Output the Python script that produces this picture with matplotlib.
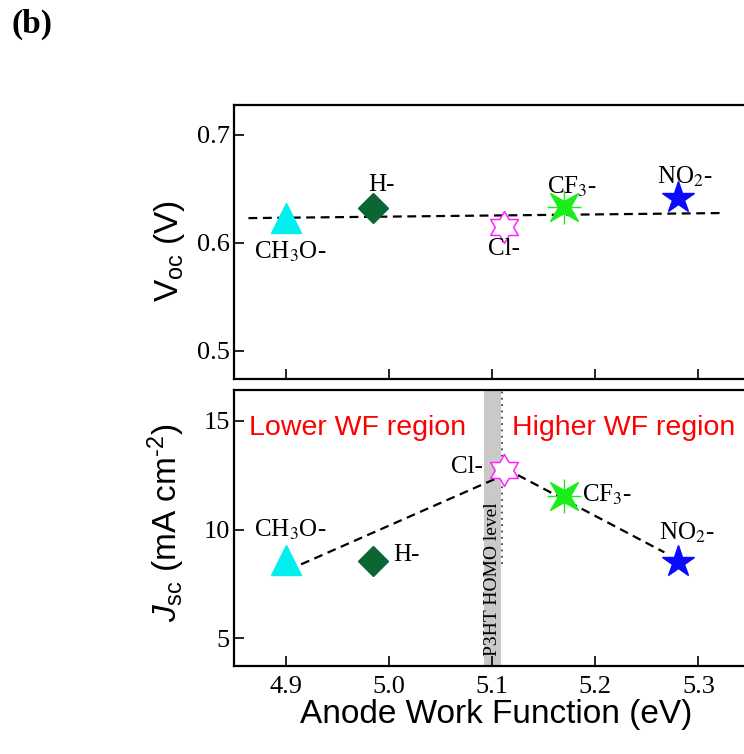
import matplotlib
matplotlib.use("Agg")
import matplotlib.pyplot as plt
from matplotlib.path import Path
from matplotlib.transforms import Affine2D

plt.rcParams['font.family'] = ['Liberation Serif', 'DejaVu Serif']
plt.rcParams['mathtext.fontset'] = 'custom'
plt.rcParams['mathtext.rm'] = 'Liberation Sans'
plt.rcParams['mathtext.it'] = 'Liberation Sans:italic'
plt.rcParams['mathtext.sf'] = 'Liberation Sans'

# anode work function (eV) for each surface modifier
groups = ['CH3O-', 'H-', 'Cl-', 'CF3-', 'NO2-']
work_function = [4.90, 4.985, 5.112, 5.17, 5.28]
voc = [0.623, 0.632, 0.615, 0.633, 0.642]
jsc = [8.6, 8.55, 12.75, 11.55, 8.5]

# trend lines
voc_fit_x = [4.864, 5.324]
voc_fit_y = [0.623, 0.6277]
jsc_low_x = [4.915, 5.109]
jsc_low_y = [8.4, 12.45]
jsc_high_x = [5.125, 5.267]
jsc_high_y = [12.5, 8.95]

# P3HT HOMO band
homo_band = (5.092, 5.109)
homo_line = 5.11

xticks = [4.9, 5.0, 5.1, 5.2, 5.3]

# marker styles
hexagram = Path.unit_regular_star(6, 0.577)
four_star = Path.unit_regular_star(4, 0.3).transformed(Affine2D().rotate_deg(45))
styles = [
    dict(marker='^', ms=21, color='#00f0f0'),
    dict(marker='D', ms=15.5, color='#0b6634'),
    dict(marker=hexagram, ms=23, mfc='white', mec='#ff22ff', mew=1.1),
    dict(marker=four_star, ms=20, color='#1aee1a'),
    dict(marker='*', ms=24, color='#0a0aff'),
]

chem = ['CH$_3$O-', 'H-', 'Cl-', 'CF$_3$-', 'NO$_2$-']
# label placement (x, y, ha) for each panel
voc_lab = [(4.904, 0.592, 'center'), (4.993, 0.654, 'center'), (5.112, 0.594, 'center'),
           (5.178, 0.652, 'center'), (5.287, 0.661, 'center')]
jsc_lab = [(4.904, 9.97, 'center'), (5.004, 8.82, 'left'), (5.091, 12.88, 'right'),
           (5.187, 11.58, 'left'), (5.289, 9.83, 'center')]

fig = plt.figure(figsize=(7.44, 7.54), dpi=100)
ax1 = fig.add_axes([0.3145, 0.4973, 0.763, 0.3634])
ax2 = fig.add_axes([0.3145, 0.1167, 0.763, 0.3661])

for ax in (ax1, ax2):
    ax.set_xlim(4.85, 5.40)
    ax.set_xticks(xticks)
    ax.tick_params(direction='in', length=7, width=1.2, labelsize=19,
                   top=False, right=False)
    ax.tick_params(axis='y', pad=3)
    ax.tick_params(axis='x', pad=7)
    for s in ax.spines.values():
        s.set_linewidth(1.6)

# Voc panel
ax1.set_ylim(0.474, 0.7277)
ax1.set_yticks([0.5, 0.6, 0.7])
ax1.set_xticklabels([])
ax1.plot(voc_fit_x, voc_fit_y, color='k', lw=1.6, ls=(0, (4, 2.5)), zorder=2)
for x, y, st in zip(work_function, voc, styles):
    ax1.plot(x, y, ls='none', zorder=3, **st)
    if st['marker'] is four_star:
        ax1.plot(x, y, marker='+', ms=24, mew=1.0, color=st['color'], zorder=3)
for (x, y, ha), t in zip(voc_lab, chem):
    ax1.text(x, y, t, ha=ha, va='center', fontsize=18, math_fontfamily='stix')
ax1.set_ylabel(r'$\mathrm{V}_{\mathrm{oc}}$ (V)', family='Liberation Sans', fontsize=24)
ax1.yaxis.set_label_coords(-0.083, 0.467)

# Jsc panel
ax2.set_ylim(3.73, 16.41)
ax2.set_yticks([5, 10, 15])
ax2.set_xticklabels(['%.1f' % v for v in xticks])
ax2.axvspan(*homo_band, color='#c9c9c9', lw=0, zorder=0)
ax2.vlines(homo_line, 8.4, 16.41, colors='#444444', lw=1.3, linestyles=(0, (1, 2.5)), zorder=1)
ax2.text(5.1005, 7.74, 'P3HT HOMO level', rotation=90, ha='center', va='center',
         fontsize=14, zorder=1)
ax2.plot(jsc_low_x, jsc_low_y, color='k', lw=1.6, ls=(0, (4, 2.5)), zorder=2)
ax2.plot(jsc_high_x, jsc_high_y, color='k', lw=1.6, ls=(0, (4, 2.5)), zorder=2)
for x, y, st in zip(work_function, jsc, styles):
    ax2.plot(x, y, ls='none', zorder=3, **st)
    if st['marker'] is four_star:
        ax2.plot(x, y, marker='+', ms=24, mew=1.0, color=st['color'], zorder=3)
for (x, y, ha), t in zip(jsc_lab, chem):
    ax2.text(x, y, t, ha=ha, va='center', fontsize=18, math_fontfamily='stix')
ax2.text(4.865, 14.67, 'Lower WF region', color='#ff0000', family='Liberation Sans',
         fontsize=20.5, va='center', ha='left')
ax2.text(5.119, 14.67, 'Higher WF region', color='#ff0000', family='Liberation Sans',
         fontsize=20.5, va='center', ha='left')
ax2.set_ylabel(r'$J_{\mathrm{sc}}$ (mA cm$^{\text{-2}}$)', family='Liberation Sans', fontsize=24)
ax2.yaxis.set_label_coords(-0.083, 0.52)
ax2.set_xlabel('Anode Work Function (eV)', family='Liberation Sans', fontsize=24)
ax2.xaxis.set_label_coords(0.4616, -0.118)

fig.text(0.016, 0.988, '(b)', fontsize=24, fontweight='bold', ha='left', va='top')

fig.savefig('out.png', dpi=100)
